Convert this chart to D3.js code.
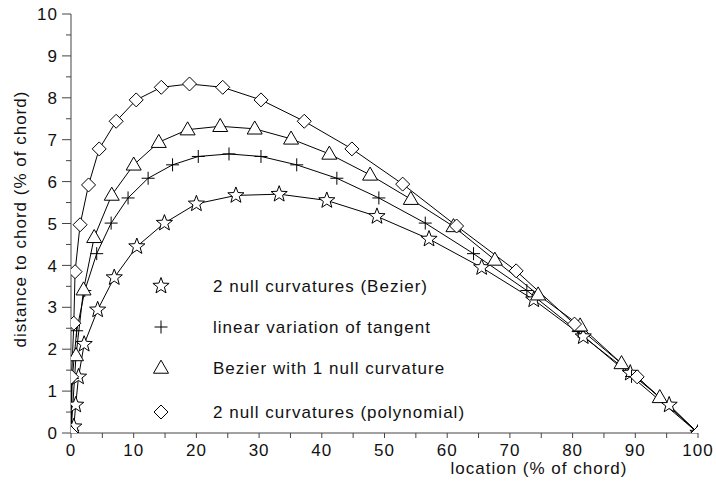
<!DOCTYPE html>
<html><head><meta charset="utf-8">
<script src="https://cdn.jsdelivr.net/npm/d3@7"></script>
<style>
body{margin:0;background:#fff;}
text{font-family:"Liberation Sans",Arial,sans-serif;fill:#111;}
</style></head>
<body><svg id="c" width="716" height="482"></svg>
<script>
// ---- data ----
const seriesNames = ["2 null curvatures (Bezier)", "linear variation of tangent", "Bezier with 1 null curvature", "2 null curvatures (polynomial)"];
const starX = [0, 0.45, 0.75, 1.2, 2.1, 4.25, 6.9, 10.5, 14.9, 20.0, 26.3, 33.2, 40.8, 48.8, 57.1, 65.5, 73.8, 81.7, 89.2, 95.4, 100];
const starY = [0, 0.15, 0.67, 1.34, 2.12, 2.94, 3.71, 4.45, 5.01, 5.47, 5.67, 5.70, 5.55, 5.17, 4.63, 3.95, 3.18, 2.30, 1.43, 0.67, 0];
const plusX = [0, 0.2, 0.9, 2.2, 4.1, 6.4, 9.1, 12.3, 16.2, 20.3, 25.2, 30.3, 36.0, 42.4, 49.1, 56.5, 64.2, 72.7, 80.9, 89.4, 100];
const plusY = [0, 1.3, 2.44, 3.40, 4.28, 5.01, 5.61, 6.08, 6.40, 6.60, 6.66, 6.60, 6.40, 6.08, 5.61, 5.01, 4.28, 3.40, 2.42, 1.35, 0];
const triX = [0, 0.8, 2.0, 3.7, 6.5, 10.0, 14.0, 18.6, 23.8, 29.3, 35.1, 41.2, 47.7, 54.2, 61.0, 67.6, 74.5, 81.2, 87.8, 93.9, 100];
const triY = [0, 1.85, 3.42, 4.67, 5.68, 6.40, 6.94, 7.24, 7.32, 7.26, 7.02, 6.66, 6.16, 5.58, 4.93, 4.13, 3.30, 2.56, 1.66, 0.85, 0];
const diaX = [0, 0.1, 0.45, 0.65, 1.45, 2.8, 4.5, 7.2, 10.4, 14.4, 18.9, 24.2, 30.3, 37.2, 44.8, 52.9, 61.5, 71.0, 80.3, 90.3, 100];
const diaY = [0, 1.34, 2.62, 3.85, 4.97, 5.92, 6.78, 7.44, 7.95, 8.25, 8.33, 8.25, 7.95, 7.44, 6.78, 5.94, 4.94, 3.87, 2.60, 1.34, 0];
const xTicks = [0, 10, 20, 30, 40, 50, 60, 70, 80, 90, 100];
const yTicks = [0, 1, 2, 3, 4, 5, 6, 7, 8, 9, 10];
const xLabel = "location (% of chord)";
const yLabel = "distance to chord (% of chord)";

// ---- layout ----
const svg = d3.select("#c");
const x = d3.scaleLinear().domain([0, 100]).range([71, 698]);
const y = d3.scaleLinear().domain([0, 10]).range([433, 14]);
const axisCol = "#444";

svg.append("defs").append("clipPath").attr("id", "plot")
  .append("rect").attr("x", x(0)).attr("y", 0).attr("width", x(100) - x(0)).attr("height", y(0));

// marker paths
function starPath(R){const r=R*0.42;let p="";for(let i=0;i<10;i++){const a=-Math.PI/2+i*Math.PI/5;const rr=i%2?r:R;p+=(i?"L":"M")+(rr*Math.cos(a)).toFixed(2)+","+(rr*Math.sin(a)).toFixed(2);}return p+"Z";}
function triPath(w){const h=w*0.87;return `M0,${-h*0.6}L${w/2},${h*0.4}L${-w/2},${h*0.4}Z`;}
function diaPath(r){return `M0,${-r}L${r},0L0,${r}L${-r},0Z`;}
function plusPath(r){return `M${-r},0L${r},0M0,${-r}L0,${r}`;}
const shapes = [starPath(8.5), plusPath(6.5), triPath(15), diaPath(7)];

const series = [
  {xs: starX, ys: starY},
  {xs: plusX, ys: plusY},
  {xs: triX, ys: triY},
  {xs: diaX, ys: diaY}
];

// axes
const gx = svg.append("g").attr("transform", `translate(0,${y(0)})`);
gx.append("line").attr("x1", x(0)).attr("x2", x(100)).attr("stroke", axisCol);
gx.selectAll(".mt").data(d3.range(0, 101, 5)).join("line")
  .attr("x1", d => x(d)).attr("x2", d => x(d)).attr("y1", 0).attr("y2", 5).attr("stroke", axisCol);
gx.selectAll("text").data(xTicks).join("text")
  .attr("x", d => x(d)).attr("y", 23).attr("text-anchor", "middle")
  .style("font-size", "17px").style("letter-spacing", "1px").text(d => d);

const gy = svg.append("g").attr("transform", `translate(${x(0)},0)`);
gy.append("line").attr("y1", y(0)).attr("y2", y(10)).attr("stroke", axisCol);
gy.selectAll(".mt").data(d3.range(0, 10.01, 0.5)).join("line")
  .attr("y1", d => y(d)).attr("y2", d => y(d)).attr("x1", d => (Math.abs(d % 1) < 1e-9 ? -9 : -5)).attr("x2", 0).attr("stroke", axisCol);
gy.selectAll("text").data(yTicks).join("text")
  .attr("x", -13).attr("y", d => y(d)).attr("dy", "0.36em").attr("text-anchor", "end")
  .style("font-size", "17px").style("letter-spacing", "1px").text(d => d);

svg.append("text").attr("x", 539).attr("y", 474).attr("text-anchor", "middle")
  .style("font-size", "17px").style("letter-spacing", "1px").text(xLabel);
svg.append("text").attr("transform", "translate(26,219) rotate(-90)").attr("text-anchor", "middle")
  .style("font-size", "17px").style("letter-spacing", "1px").text(yLabel);

const plot = svg.append("g").attr("clip-path", "url(#plot)");
// lines
const line = d3.line().x(d => x(d[0])).y(d => y(d[1]));
series.forEach(s => {
  const pts = s.xs.map((v, i) => [v, s.ys[i]]);
  plot.append("path").attr("d", line(pts)).attr("fill", "none").attr("stroke", "#000").attr("stroke-width", 1);
});
// markers
series.forEach((s, k) => {
  const pts = s.xs.map((v, i) => [v, s.ys[i]]);
  plot.append("g").selectAll("path").data(pts).join("path")
    .attr("transform", d => `translate(${x(d[0])},${y(d[1])})`)
    .attr("d", shapes[k]).attr("fill", k === 1 ? "none" : "#fff").attr("stroke", "#000").attr("stroke-width", 1);
});

// legend
const legY = [286, 327, 368, 412];
const leg = svg.append("g");
seriesNames.forEach((n, k) => {
  leg.append("path").attr("transform", `translate(161,${legY[k]})`).attr("d", shapes[k])
    .attr("fill", k === 1 ? "none" : "#fff").attr("stroke", "#000").attr("stroke-width", 1);
  leg.append("text").attr("x", 213).attr("y", legY[k]).attr("dy", "0.36em")
    .style("font-size", "17px").style("letter-spacing", "1px").text(n);
});
</script></body></html>
